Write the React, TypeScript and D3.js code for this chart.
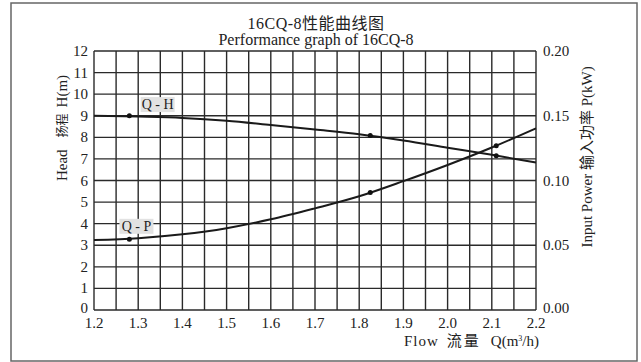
import React, { useRef, useEffect } from 'react';
import * as d3 from 'd3';

// readings from the curve sheet
const flow = [1.2, 1.3, 1.4, 1.5, 1.6, 1.7, 1.8, 1.9, 2.0, 2.1, 2.2];
const head = [9.0, 8.96, 8.9, 8.77, 8.57, 8.36, 8.14, 7.85, 7.52, 7.19, 6.83];
const power = [0.054, 0.0555, 0.0585, 0.0632, 0.07, 0.0785, 0.0878, 0.0995, 0.112, 0.1255, 0.1403];

const markFlow = [1.28, 1.825, 2.11];
const markHead = [9.0, 8.08, 7.15];
const markPower = [0.0547, 0.0908, 0.1268];

const headTicks = [0, 1, 2, 3, 4, 5, 6, 7, 8, 9, 10, 11, 12];
const powerTicks = [0, 0.05, 0.1, 0.15, 0.2];
const flowTicks = [1.2, 1.3, 1.4, 1.5, 1.6, 1.7, 1.8, 1.9, 2.0, 2.1, 2.2];

const FONT = '"Liberation Serif", "Noto Sans CJK SC", serif';

const App = () => {
    const svgRef = useRef<SVGSVGElement>(null);

    useEffect(() => {
        const svg = d3.select(svgRef.current);
        svg.selectAll('*').remove();

        const left = 94, right = 536, top = 51, bottom = 310;

        const x = d3.scaleLinear().domain([1.2, 2.2]).range([left, right]);
        const yH = d3.scaleLinear().domain([0, 12]).range([bottom, top]);
        const yP = d3.scaleLinear().domain([0, 0.2]).range([bottom, top]);

        // frame
        svg.append('rect')
            .attr('x', 11).attr('y', 3)
            .attr('width', 626).attr('height', 358)
            .attr('fill', 'none')
            .attr('stroke', '#666')
            .attr('stroke-width', 1.5);

        // grid
        const g = svg.append('g').attr('stroke', '#2a2a2a').attr('stroke-width', 1.4);
        g.selectAll('line.v')
            .data(d3.range(0, 21).map(i => 1.2 + i * 0.05))
            .enter().append('line')
            .attr('x1', d => x(d)).attr('x2', d => x(d))
            .attr('y1', top).attr('y2', bottom);
        g.selectAll('line.h')
            .data(headTicks)
            .enter().append('line')
            .attr('x1', left).attr('x2', right)
            .attr('y1', d => yH(d)).attr('y2', d => yH(d));

        const txt = svg.append('g')
            .style('font-family', FONT)
            .attr('fill', '#222');

        // left ticks
        txt.selectAll('text.l')
            .data(headTicks)
            .enter().append('text')
            .attr('x', left - 6)
            .attr('y', d => yH(d) + (d === 0 ? 3 : 5))
            .attr('text-anchor', 'end')
            .style('font-size', '15px')
            .text(d => d);

        // right ticks
        txt.selectAll('text.r')
            .data(powerTicks)
            .enter().append('text')
            .attr('x', right + 7)
            .attr('y', d => yP(d) + (d === 0 ? 3 : 5))
            .style('font-size', '15px')
            .text(d => d3.format('.2f')(d));

        // bottom ticks
        txt.selectAll('text.b')
            .data(flowTicks)
            .enter().append('text')
            .attr('x', d => x(d))
            .attr('y', bottom + 18)
            .attr('text-anchor', 'middle')
            .style('font-size', '15px')
            .text(d => d3.format('.1f')(d));

        // titles
        txt.append('text')
            .attr('x', 316).attr('y', 29)
            .attr('text-anchor', 'middle')
            .style('font-size', '16px')
            .style('letter-spacing', '0.5px')
            .text('16CQ-8性能曲线图');
        txt.append('text')
            .attr('x', 316).attr('y', 45)
            .attr('text-anchor', 'middle')
            .style('font-size', '16px')
            .text('Performance graph of 16CQ-8');

        // axis titles
        const lt = txt.append('text')
            .attr('transform', `translate(67,128) rotate(-90)`)
            .attr('text-anchor', 'middle')
            .style('font-size', '15px');
        lt.append('tspan').text('Head');
        lt.append('tspan').attr('dx', 12).style('font-size', '12px').text('扬程');
        lt.append('tspan').attr('dx', 6).text('H(m)');

        txt.append('text')
            .attr('transform', `translate(592,157) rotate(-90)`)
            .attr('text-anchor', 'middle')
            .style('font-size', '15px')
            .text('Input Power  输入功率  P(kW)');

        const xt = txt.append('text')
            .attr('x', 539).attr('y', 346)
            .attr('text-anchor', 'end')
            .style('font-size', '15px');
        xt.append('tspan').style('letter-spacing', '1px').text('Flow');
        xt.append('tspan').attr('dx', 8).style('letter-spacing', '2px').text('流量');
        xt.append('tspan').attr('dx', 10).text('Q(m');
        xt.append('tspan').attr('dy', -5).style('font-size', '8px').text('3');
        xt.append('tspan').attr('dy', 5).text('/h)');

        // curves
        const hLine = d3.line<number>()
            .x((_, i) => x(flow[i]))
            .y(d => yH(d))
            .curve(d3.curveMonotoneX);
        const pLine = d3.line<number>()
            .x((_, i) => x(flow[i]))
            .y(d => yP(d))
            .curve(d3.curveMonotoneX);

        svg.append('path')
            .attr('d', hLine(head))
            .attr('fill', 'none')
            .attr('stroke', '#1a1a1a')
            .attr('stroke-width', 2);
        svg.append('path')
            .attr('d', pLine(power))
            .attr('fill', 'none')
            .attr('stroke', '#1a1a1a')
            .attr('stroke-width', 2);

        svg.selectAll('circle.h')
            .data(markHead)
            .enter().append('circle')
            .attr('cx', (_, i) => x(markFlow[i]))
            .attr('cy', d => yH(d))
            .attr('r', 2.5)
            .attr('fill', '#111');
        svg.selectAll('circle.p')
            .data(markPower)
            .enter().append('circle')
            .attr('cx', (_, i) => x(markFlow[i]))
            .attr('cy', d => yP(d))
            .attr('r', 2.5)
            .attr('fill', '#111');

        // curve labels
        const tag = (label, q, h) => {
            const cx = x(q), by = yH(h);
            svg.append('rect')
                .attr('x', cx - 17).attr('y', by - 15)
                .attr('width', 34).attr('height', 15)
                .attr('fill', '#e2e2e2');
            svg.append('text')
                .attr('x', cx).attr('y', by - 3)
                .attr('text-anchor', 'middle')
                .style('font-family', FONT)
                .style('font-size', '14px')
                .attr('fill', '#222')
                .text(label);
        };
        tag('Q - H', 1.344, 9.17);
        tag('Q - P', 1.296, 3.53);
    }, []);

    return (
        <svg ref={svgRef} width={641} height={362}
            style={{ position: 'absolute', left: 0, top: 0, background: '#fff' }} />
    );
};

export default App;
